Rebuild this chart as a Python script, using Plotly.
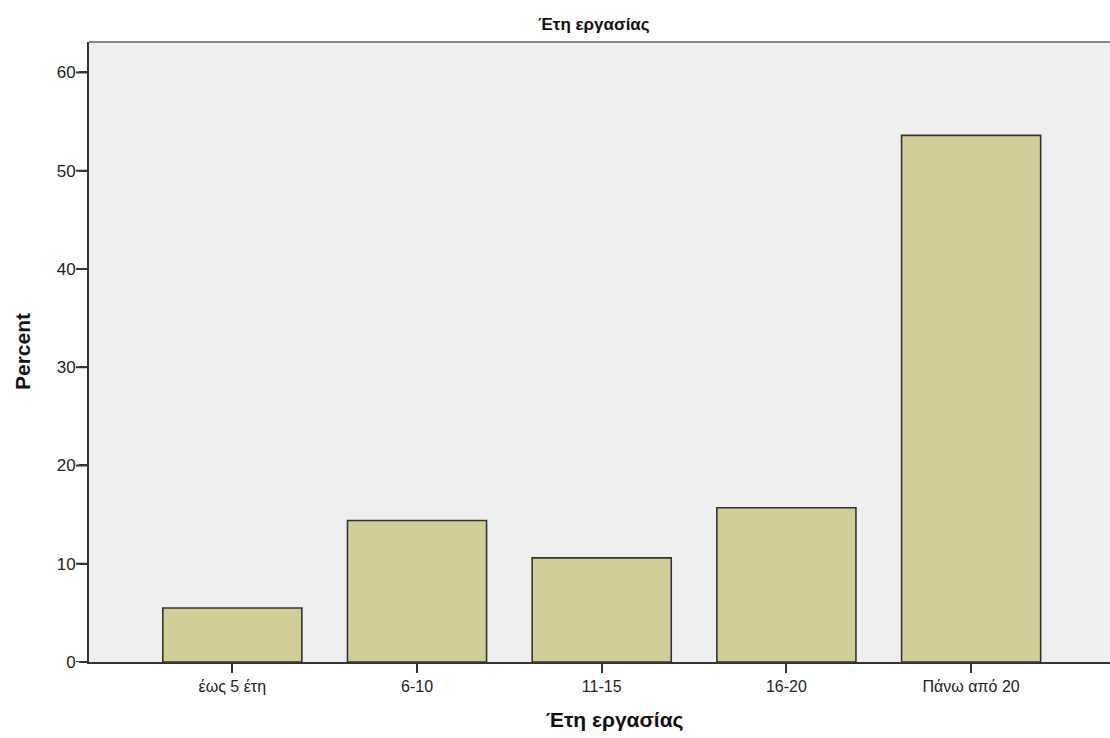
import plotly.graph_objects as go

categories = ["έως 5 έτη", "6-10", "11-15", "16-20", "Πάνω από 20"]
percent = [5.5, 14.4, 10.6, 15.7, 53.6]
y_ticks = [0, 10, 20, 30, 40, 50, 60]

FONT = "Liberation Sans, Arial, sans-serif"

L, R, T, B = 89, 0, 42, 76
W, H = 1110, 738
PW = W - L - R
PH = H - T - B


def px_x(x):
    return (x - L) / PW


def px_y(y):
    return (H - B - y) / PH


fig = go.Figure(
    go.Bar(
        x=list(range(len(categories))),
        y=percent,
        width=0.753,
        marker=dict(color="#D3CD97", line=dict(color="#333333", width=1.6)),
        hoverinfo="skip",
    )
)

tick_shapes = [
    dict(
        type="line",
        xref="paper",
        xsizemode="pixel",
        xanchor=0,
        x0=-13,
        x1=0,
        yref="y",
        y0=v,
        y1=v,
        line=dict(color="#333333", width=2),
    )
    for v in y_ticks
]

fig.update_layout(
    width=W,
    height=H,
    margin=dict(l=L, r=R, t=T, b=B),
    paper_bgcolor="white",
    plot_bgcolor="#EFEFEF",
    showlegend=False,
    font=dict(family=FONT, size=12, color="#222222"),
    title=dict(
        text="<b>Έτη εργασίας</b>",
        x=594 / W,
        xanchor="center",
        y=1 - 24 / H,
        yanchor="middle",
        font=dict(family=FONT, size=17, color="#111111"),
    ),
    xaxis=dict(
        range=[-0.776, 4.752],
        tickmode="array",
        tickvals=list(range(len(categories))),
        ticktext=categories,
        showgrid=False,
        zeroline=False,
        showline=True,
        linecolor="#333333",
        linewidth=2,
        ticks="outside",
        ticklen=9,
        tickwidth=2,
        tickcolor="#333333",
        tickfont=dict(family=FONT, size=16, color="#222222"),
    ),
    yaxis=dict(
        range=[0, 63.1],
        tickmode="array",
        tickvals=y_ticks,
        ticktext=[str(v) for v in y_ticks],
        showgrid=False,
        zeroline=False,
        showline=True,
        linecolor="#333333",
        linewidth=2,
        ticks="outside",
        ticklen=8,
        tickwidth=2,
        tickcolor="#333333",
        tickfont=dict(family=FONT, size=17, color="#222222"),
    ),
    annotations=[
        dict(
            text="<b>Έτη εργασίας</b>",
            xref="paper",
            yref="paper",
            x=px_x(615),
            y=px_y(720),
            xanchor="center",
            yanchor="middle",
            showarrow=False,
            font=dict(family=FONT, size=21, color="#111111"),
        ),
        dict(
            text="<b>Percent</b>",
            xref="paper",
            yref="paper",
            x=px_x(22),
            y=px_y(352),
            xanchor="center",
            yanchor="middle",
            textangle=-90,
            showarrow=False,
            font=dict(family=FONT, size=21, color="#111111"),
        ),
    ],
    shapes=[
        dict(
            type="line",
            xref="paper",
            yref="paper",
            x0=0,
            x1=1,
            y0=1,
            y1=1,
            line=dict(color="#888888", width=2),
        )
    ]
    + tick_shapes,
)

fig.write_html("out.html")
